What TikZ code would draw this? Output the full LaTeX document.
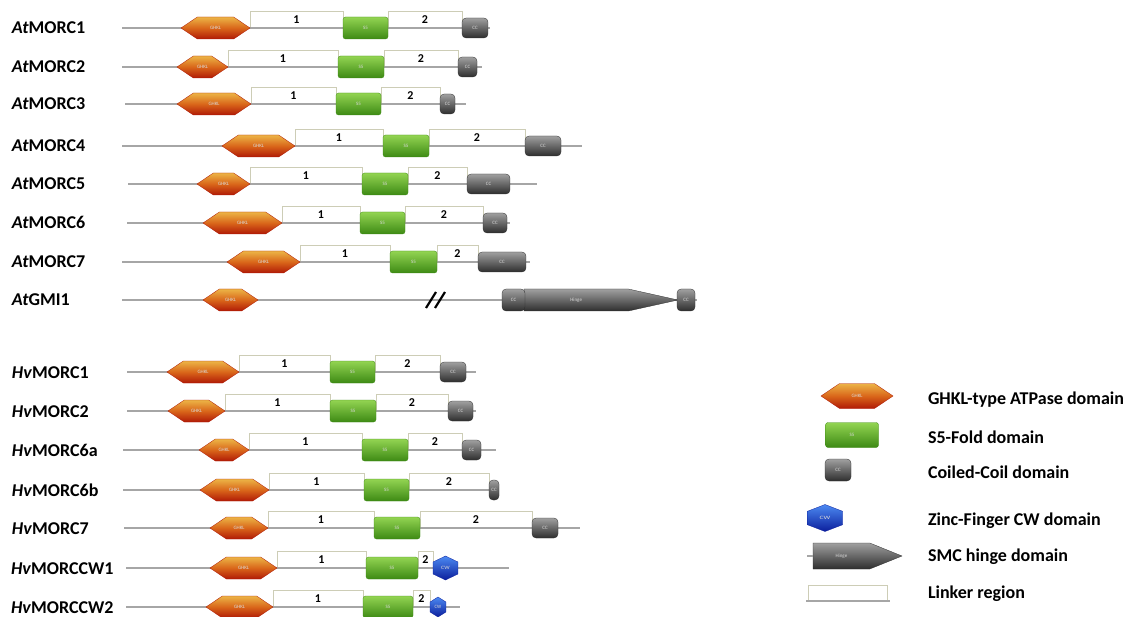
\documentclass[tikz,border=0pt]{standalone}
\usepackage{fontspec}
\setmainfont{Carlito}
\usetikzlibrary{shapes.symbols,shapes.geometric,positioning}
\definecolor{ghkltop}{HTML}{ECB446}
\definecolor{ghklmid}{HTML}{D9661A}
\definecolor{ghklbot}{HTML}{B01A06}
\definecolor{sfivetop}{HTML}{93D452}
\definecolor{sfivebot}{HTML}{3D8A14}
\definecolor{cctop}{HTML}{A0A0A0}
\definecolor{ccbot}{HTML}{2E2E2E}
\definecolor{cwtop}{HTML}{4C8AF2}
\definecolor{cwbot}{HTML}{0B1E9C}
\definecolor{linkline}{HTML}{CDCDB6}
\definecolor{bbgray}{HTML}{A6A6A6}

\begin{document}
\begin{tikzpicture}[x=1pt,y=-1pt,
  every node/.style={inner sep=0pt,outer sep=0pt},
  protname/.style={anchor=base west,font=\fontsize{18}{20}\selectfont\bfseries},
  legtext/.style={anchor=base west,font=\fontsize{18}{20}\selectfont\bfseries},
  backbone/.style={draw=bbgray,line width=1.6pt},
  domtext/.style={font=\fontsize{5}{5}\selectfont,text=white!85!black},
  ghklbox/.style={domtext,signal,signal to=west and east,signal pointer angle=68,
    top color=ghkltop,bottom color=ghklbot,middle color=ghklmid,draw=ghklbot,line width=0.3pt,minimum height=22pt},
  sfivebox/.style={domtext,rectangle,rounded corners=2.5pt,top color=sfivetop,bottom color=sfivebot,
    draw=sfivebot,line width=0.3pt,minimum height=22pt},
  ccbox/.style={domtext,rectangle,rounded corners=4pt,top color=cctop,bottom color=ccbot,
    draw=ccbot,line width=0.3pt,minimum height=20pt},
  cwbox/.style={domtext,regular polygon,regular polygon sides=6,shape border rotate=30,
    transform shape,top color=cwtop,bottom color=cwbot,draw=cwbot,line width=0.3pt},
  hingebox/.style={domtext,signal,signal to=east,anchor=west,top color=cctop,bottom color=ccbot,
    draw=ccbot,line width=0.3pt},
  linkerbox/.style={rectangle,draw=linkline,line width=0.9pt,minimum height=17pt,anchor=south,
    font=\fontsize{12}{12}\selectfont\bfseries},
  breakmark/.style={draw=black,line width=2.2pt}
]
\useasboundingbox (0,0) rectangle (1129,617);

% MORC proteins with GHKL, S5 and CC
\foreach \id/\sp/\nm/\yy/\xl/\xr/\ga/\gb/\fa/\fb/\ka/\kb in {
    at1/At/1/28/122/490/181/250/343/388/462/488,
    at2/At/2/67/122/482/177/228/338/384/458/477,
    at3/At/3/104/125/466/177/251/336/381/440/455,
    at4/At/4/146/122/582/222/295/383/429/525/561,
    at5/At/5/184/128/537/197/250/362/408/467/510,
    at6/At/6/223/127/510/203/282/360/405/483/507,
    at7/At/7/262/122/530/227/300/390/437/478/526,
    hv1/Hv/1/372/127/476/167/239/330/375/440/466,
    hv2/Hv/2/411/127/476/168/225/330/376/448/473,
    hv6a/Hv/6a/450/123/496/199/249/362/408/462/481,
    hv6b/Hv/6b/490/123/499/200/269/364/409/489/499,
    hv7/Hv/7/528/124/580/210/268/374/420/532/558}
{
  \node[protname] (name\id) at (12,\yy+6) {\textit{\sp}MORC\nm};
  \coordinate (start\id) at (\xl,\yy);
  \coordinate (end\id) at (\xr,\yy);
  \node[linkerbox,minimum width={\fa-\gb}] (lkone\id) at ({(\gb+\fa)/2},\yy) {1};
  \node[linkerbox,minimum width={\ka-\fb}] (lktwo\id) at ({(\fb+\ka)/2},\yy) {2};
  \draw[backbone] (start\id) -- (end\id);
  \node[ghklbox,minimum width={\gb-\ga}] (ghkl\id) at ({(\ga+\gb)/2},\yy) {GHKL};
  \node[sfivebox,minimum width={\fb-\fa}] (sfive\id) at ({(\fa+\fb)/2},\yy) {S5};
  \node[ccbox,minimum width={\kb-\ka}] (cc\id) at ({(\ka+\kb)/2},\yy) {CC};
}

% AtGMI1
\node[protname] (namegmi) at (12,306) {\textit{At}GMI1};
\coordinate (startgmi) at (122,300);
\coordinate (endgmi) at (697,300);
\draw[backbone] (startgmi) -- (endgmi);
\node[ghklbox,minimum width=55pt] (ghklgmi) at (230.5,300) {GHKL};
\coordinate (brka) at (426,308);
\coordinate (brkb) at (436,292);
\coordinate (brkc) at (435,308);
\coordinate (brkd) at (445,292);
\draw[breakmark] (brka) -- (brkb);
\draw[breakmark] (brkc) -- (brkd);
\node[hingebox,signal pointer angle=25,minimum width=154pt,minimum height=22pt] (hingegmi) at (524,300) {Hinge};
\node[ccbox,minimum width=23pt,minimum height=22pt] (ccagmi) at (513.5,300) {CC};
\node[ccbox,minimum width=18pt,minimum height=22pt] (ccbgmi) at (686,300) {CC};

% MORC proteins with a CW domain
\foreach \id/\nm/\yy/\xl/\xr/\ga/\gb/\fa/\fb/\ka/\kb/\hh/\sx in {
    cwone/1/568/126/509/210/277/366/418/433/458/24/1.2,
    cwtwo/2/607/126/460/206/273/363/413/430/446/20/0.92}
{
  \node[protname] (name\id) at (11,\yy+6) {\textit{Hv}MORCCW\nm};
  \coordinate (start\id) at (\xl,\yy);
  \coordinate (end\id) at (\xr,\yy);
  \node[linkerbox,minimum width={\fa-\gb}] (lkone\id) at ({(\gb+\fa)/2},\yy) {1};
  \node[linkerbox,minimum width={\ka-\fb}] (lktwo\id) at ({(\fb+\ka)/2},\yy) {2};
  \draw[backbone] (start\id) -- (end\id);
  \node[ghklbox,minimum width={\gb-\ga}] (ghkl\id) at ({(\ga+\gb)/2},\yy) {GHKL};
  \node[sfivebox,minimum width={\fb-\fa}] (sfive\id) at ({(\fa+\fb)/2},\yy) {S5};
  \node[cwbox,minimum size={\hh},xscale=\sx] (cw\id) at ({(\ka+\kb)/2},\yy) {CW};
}

% legend
\node[ghklbox,minimum width=72pt,minimum height=25pt] (legghkl) at (857,396) {GHKL};
\node[legtext] (txtghkl) at (928,404) {GHKL-type ATPase domain};
\node[sfivebox,minimum width=53pt,minimum height=25pt] (legsfive) at (852,435) {S5};
\node[legtext] (txtsfive) at (928,443) {S5-Fold domain};
\node[ccbox,minimum width=26pt,minimum height=22pt] (legcc) at (838,470) {CC};
\node[legtext] (txtcc) at (928,478) {Coiled-Coil domain};
\node[cwbox,minimum size=27pt,xscale=1.5] (legcw) at (825,518) {CW};
\node[legtext] (txtcw) at (928,525) {Zinc-Finger CW domain};
\coordinate (stubhinge) at (807,556);
\node[hingebox,signal pointer angle=44,minimum width=89pt,minimum height=26pt] (leghinge) at (813,556) {Hinge};
\draw[backbone] (stubhinge) -- (leghinge.west);
\node[legtext] (txthinge) at (928,561) {SMC hinge domain};
\coordinate (stubla) at (806,601);
\coordinate (stublb) at (890,601);
\node[linkerbox,minimum width=79pt,minimum height=16pt] (leglinker) at (847.5,601) {};
\draw[backbone] (stubla) -- (stublb);
\node[legtext] (txtlinker) at (928,598) {Linker region};
\end{tikzpicture}
\end{document}
